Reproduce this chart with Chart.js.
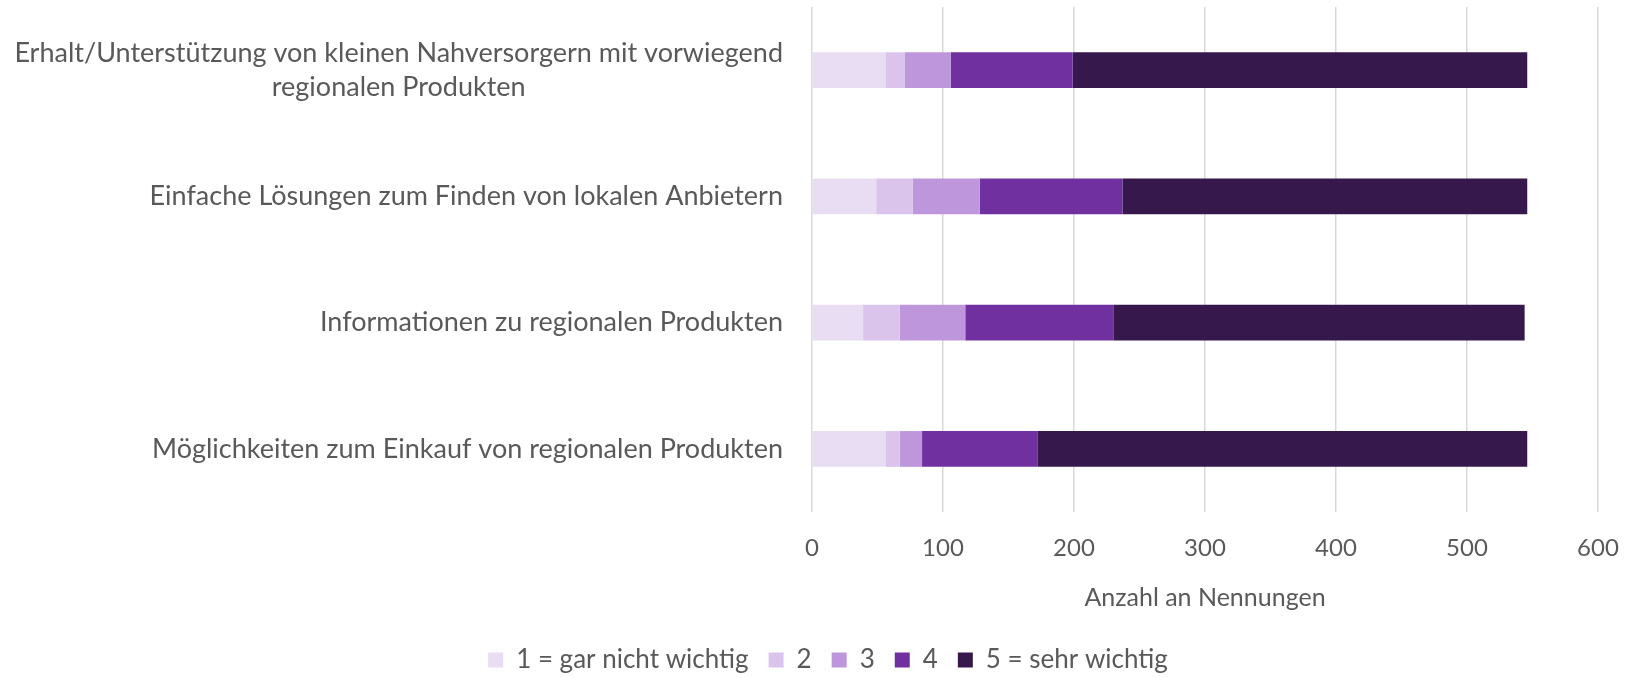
<!DOCTYPE html>
<html>
<head>
<meta charset="utf-8">
<script src="https://cdn.jsdelivr.net/npm/chart.js@4/dist/chart.umd.min.js"></script>
<style>
  body{margin:0;background:#fff;}
</style>
</head>
<body>
<canvas id="chart" width="1632" height="678"></canvas>
<script>
const categories = [
  ["Erhalt/Unterstützung von kleinen Nahversorgern mit vorwiegend", "regionalen Produkten"],
  ["Einfache Lösungen zum Finden von lokalen Anbietern"],
  ["Informationen zu regionalen Produkten"],
  ["Möglichkeiten zum Einkauf von regionalen Produkten"]
];
const seriesNames = ["1 = gar nicht wichtig", "2", "3", "4", "5 = sehr wichtig"];
const s1 = [56, 49, 39, 56];
const s2 = [15, 28, 28, 11];
const s3 = [35, 51, 50, 17];
const s4 = [93, 109, 113, 88];
const s5 = [347, 309, 314, 374];
const xTicks = [0, 100, 200, 300, 400, 500, 600];
const axisTitle = "Anzahl an Nennungen";

const colors = ["#e9ddf4", "#dac4eb", "#be96dc", "#7030a0", "#36184d"];
const FONT = "Lato";
const textColor = "#595959";

// category labels: first line right-aligned to the axis, further lines centred under it
const yLabels = {
  id: "yLabels",
  afterDraw(chart){
    const ctx = chart.ctx, y = chart.scales.y;
    ctx.save();
    ctx.font = "27px " + FONT;
    ctx.fillStyle = textColor;
    ctx.textBaseline = "middle";
    ctx.textAlign = "center";
    const right = chart.chartArea.left - 29, lh = 34;
    categories.forEach((lines,i)=>{
      const w = Math.max(...lines.map(l=>ctx.measureText(l).width));
      const cy = y.getPixelForTick(i) - (lines.length-1)*lh/2;
      lines.forEach((l,j)=>ctx.fillText(l, right - w/2, cy + j*lh));
    });
    ctx.restore();
  }
};

const sets = [s1, s2, s3, s4, s5];
new Chart(document.getElementById("chart"), {
  type: "bar",
  data: {
    labels: categories.map(c=>c.join(" ")),
    datasets: sets.map((d,i)=>({
      label: seriesNames[i],
      data: d,
      backgroundColor: colors[i],
      borderWidth: 0,
      categoryPercentage: 1,
      barPercentage: 0.283
    }))
  },
  options: {
    indexAxis: "y",
    responsive: false,
    animation: false,
    layout: {padding: {top: 7, right: 34, left: 58, bottom: -5}},
    plugins: {
      legend: {
        position: "bottom",
        labels: {
          font: {family: FONT, size: 26},
          color: textColor,
          boxWidth: 15,
          boxHeight: 15,
          padding: 20
        }
      },
      tooltip: {enabled: false}
    },
    scales: {
      x: {
        stacked: true,
        min: 0,
        max: 600,
        afterBuildTicks: s => { s.ticks = xTicks.map(v=>({value:v})); },
        grid: {color: "#d9d9d9", lineWidth: 1.5, drawTicks: false},
        border: {display: false},
        ticks: {font: {family: FONT, size: 24, lineHeight: 2.33}, color: textColor, padding: 8},
        title: {
          display: true,
          text: axisTitle,
          font: {family: FONT, size: 25},
          color: textColor,
          padding: {top: -1, bottom: 14}
        }
      },
      y: {
        stacked: true,
        grid: {display: false},
        border: {display: false},
        ticks: {display: false},
        afterFit: s => { s.width = 754; }
      }
    }
  },
  plugins: [yLabels]
});
</script>
</body>
</html>
